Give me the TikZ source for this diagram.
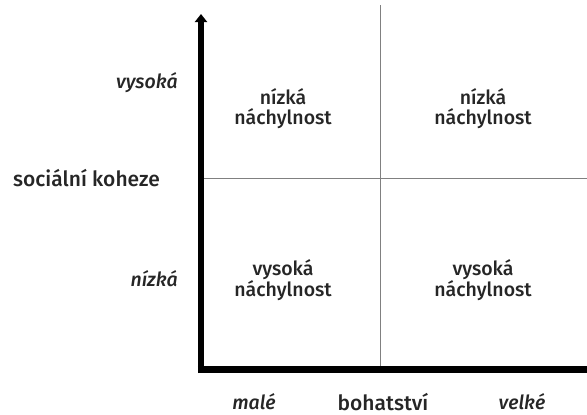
\documentclass[tikz,border=0pt]{standalone}
\usepackage{fontspec}
\setmainfont{Fira Sans}[UprightFont=* Medium, ItalicFont=* Medium Italic]
\usetikzlibrary{arrows.meta}

\begin{document}
\begin{tikzpicture}[x=1pt,y=-1pt,
    lbl/.style={align=center,font=\fontsize{19.5}{20}\selectfont,text=black!85,inner sep=0pt},
    ttl/.style={font=\fontsize{21}{22}\selectfont,text=black!85,inner sep=0pt},
    axlbl/.style={font=\fontsize{19.5}{20}\selectfont\itshape,text=black!85,inner sep=0pt}]
        \useasboundingbox (0,0) rectangle (587,415);

        \draw[gray, line width=1pt] (380,5) -- (380,366);
        \draw[gray, line width=1pt] (204,178) -- (587,178);
        \draw[line width=6.5pt, -{Triangle[length=8pt,width=12pt]}] (201,373) -- (201,14);
        \draw[line width=6.5pt] (197.75,369.5) -- (587,369.5);

        \node[lbl] (q1) at (283,109) {nízká\\náchylnost};
        \node[lbl] (q2) at (483,109) {nízká\\náchylnost};
        \node[lbl] (q3) at (283,280) {vysoká\\náchylnost};
        \node[lbl] (q4) at (483,280) {vysoká\\náchylnost};

        \node[axlbl, anchor=base east] (yhi) at (178,88) {vysoká};
        \node[ttl, anchor=base west] (ytitle) at (13,186) {sociální koheze};
        \node[axlbl, anchor=base east] (ylo) at (178,286) {nízká};
        \node[axlbl, anchor=base] (xlo) at (254,409) {malé};
        \node[ttl, anchor=base] (xtitle) at (383,410) {bohatství};
        \node[axlbl, anchor=base] (xhi) at (522,409) {velké};
    \end{tikzpicture}
\end{document}
